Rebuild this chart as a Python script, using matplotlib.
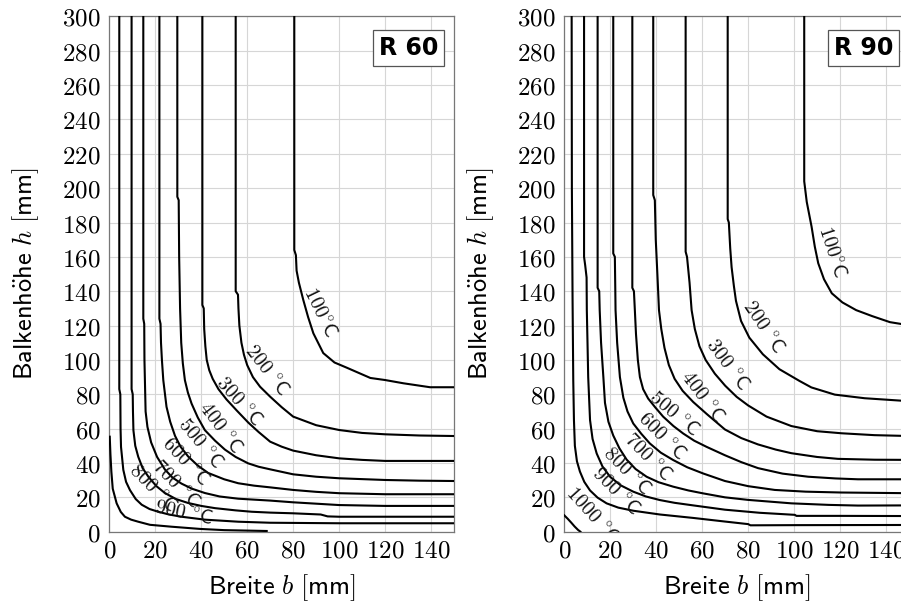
import matplotlib
matplotlib.use("Agg")
import matplotlib.pyplot as plt
from matplotlib.ticker import FuncFormatter

plt.rcParams['mathtext.fontset'] = 'cm'

# ---- isotherm data (b [mm], h [mm]) ----
# R 60
R60_T100 = [(80.5, 300), (80.5, 164), (81.2, 161), (81.5, 152), (82.5, 145), (84.4, 135), (86.5, 125),
            (88.8, 115.5), (93.1, 104), (98, 98.5), (103.3, 95.5), (113.6, 89.5), (120, 88.3),
            (128, 86.4), (139.6, 84.1), (150, 84.1)]
R60_T200 = [(55, 300), (55, 140), (56, 138), (56.2, 130), (56.6, 120), (57.5, 110), (58.6, 103),
            (60, 97), (62.5, 90), (65.6, 84.4), (70, 78.6), (75, 72.5), (80, 67), (90, 62),
            (100, 59.2), (110, 57.5), (120, 56.7), (135, 56), (150, 55.7)]
R60_T300 = [(40.5, 300), (40.5, 132), (41.1, 130), (41.3, 118), (41.8, 108), (42.4, 100), (43.5, 94),
            (45, 89), (47.5, 83), (51, 77), (55.5, 70.5), (60.5, 63.5), (65, 58), (70, 52.4),
            (75, 49.5), (80, 47.2), (90, 44.5), (100, 42.7), (110, 41.8), (120, 41.2), (150, 41.2)]
R60_T400 = [(29.6, 300), (29.6, 195), (30.2, 193), (30.4, 160), (30.8, 130), (31.3, 110), (32, 98),
            (32.9, 88.2), (34.2, 81), (35.8, 74.6), (38.5, 66.5), (41.6, 59.1), (46, 53), (50.3, 47.8),
            (55, 43.5), (60.4, 39.8), (65, 37.8), (70, 36.3), (80, 33.4), (90, 32), (100, 31.1),
            (120, 30.1), (135, 29.7), (150, 29.5)]
R60_T500 = [(21.8, 300), (21.8, 124), (22.3, 121), (22.5, 110), (22.9, 100), (23.5, 88.2), (24.9, 72.7),
            (26.5, 64), (28.6, 55.8), (31, 49.5), (34.3, 43.8), (38.5, 38.5), (43, 34.2), (50, 30.5),
            (56.1, 28.2), (63, 26.8), (70, 25.8), (80, 24.3), (90, 23.2), (100, 22.4), (120, 21.8),
            (150, 21.8)]
R60_T600 = [(14.8, 300), (14.8, 124), (15.2, 121), (15.3, 100), (15.5, 88), (15.8, 70), (16.6, 61),
            (18.2, 52), (20.8, 43.5), (24.2, 36.2), (27.5, 31.5), (31.4, 28), (36, 25), (41.6, 22.5),
            (48, 20.5), (56.1, 19.2), (70, 18.1), (80, 17.1), (100, 15.5), (120, 15), (150, 15)]
R60_T700 = [(9.7, 300), (9.7, 83), (10.2, 80), (10.3, 70), (10.5, 59), (11.3, 50), (12.6, 43.6),
            (14.5, 37), (17, 32), (20.5, 26.5), (24.2, 22.5), (29, 19), (34.3, 16.7), (40, 15),
            (46, 13.7), (55, 12.4), (62, 11.6), (70, 11.1), (80, 10.7), (92, 10), (95, 8.9),
            (100, 8.7), (150, 8.7)]
R60_T800 = [(4.35, 300), (4.35, 83), (4.8, 80), (4.9, 60), (5.1, 49.4), (6.1, 36), (7.3, 29), (9, 24.2),
            (11.5, 19), (14.1, 15.7), (17.5, 13.2), (21.3, 11.6), (26, 10), (31.4, 8.7), (41.6, 7),
            (56.1, 5.8), (70, 5.2), (100, 4.9), (150, 4.9)]
R60_T900 = [(0.2, 55.3), (0.5, 45), (0.9, 35), (1.5, 25), (3.2, 16.5), (5, 11.5), (6.8, 8.7), (9.5, 7),
            (12.6, 5.8), (17.7, 4), (27, 2.9), (39.5, 1.6), (50, 0.9), (68.5, 0.4)]

# R 90
R90_T100 = [(104.4, 300), (104.4, 204), (105.5, 192), (107.6, 177.6), (109, 166), (110.5, 156.3),
            (113, 147), (116.4, 138.8), (121, 133.5), (127, 129), (134, 125.5), (141.7, 122),
            (150, 120.2)]
R90_T200 = [(71.1, 300), (71.1, 182), (71.6, 180), (72.2, 165), (72.8, 154), (73.8, 143), (74.7, 134.4),
            (76.9, 122.7), (80.5, 113), (86.4, 103.3), (93.6, 94.6), (102.3, 87.8), (107.5, 84),
            (117.7, 79.8), (130.7, 77.7), (146.4, 76.3), (150, 76.2)]
R90_T300 = [(52.8, 300), (52.8, 163), (53.4, 160), (54.5, 145), (55.4, 129), (56.8, 118), (58.8, 108),
            (61.5, 100), (65.5, 92), (70, 85), (75, 78.5), (80, 73.5), (88, 67), (98.8, 61.5),
            (110, 58.5), (120.6, 57.3), (135, 56.2), (150, 55.7)]
R90_T400 = [(38.7, 300), (38.7, 196), (39.4, 193), (39.8, 170), (40.5, 150), (41.2, 129), (42.2, 118),
            (43.6, 107), (45.5, 97), (48, 89), (51.5, 82), (56.1, 75.5), (62, 68.5), (69.9, 59.5),
            (77, 54.5), (84.3, 50.8), (92, 47.8), (98.8, 45.7), (110, 43.5), (119.1, 42.4),
            (135, 41.9), (150, 41.8)]
R90_T500 = [(29.6, 300), (29.6, 142), (30.3, 140), (30.7, 129), (31.2, 115), (32, 100), (32.9, 90),
            (34.3, 83), (36.5, 77.5), (39.5, 72.5), (43, 67), (47.5, 61.5), (51.7, 57.2), (56.5, 53),
            (61.9, 49.4), (69.9, 44.5), (77, 40.5), (84.3, 37), (95, 33.8), (106.1, 32), (118, 31),
            (127.8, 30.5), (150, 30.5)]
R90_T600 = [(21.3, 300), (21.3, 162), (22, 160), (22.2, 140), (22.3, 129), (23, 110), (24.2, 90),
            (25.7, 78), (27.5, 70), (30, 63), (33.5, 57), (37.2, 51.4), (42, 46), (47.4, 41.7),
            (53.5, 37.5), (60.4, 33.9), (69.9, 29.5), (80, 26.5), (91.6, 24.3), (105, 23.3),
            (120.6, 22.8), (150, 22.4)]
R90_T700 = [(14.5, 300), (14.5, 142), (15.2, 140), (15.4, 129), (16, 110), (17, 90), (17.7, 75),
            (19.2, 64), (21.3, 56), (24, 48.5), (27.1, 42), (31, 36.5), (35.8, 32), (41, 28.8),
            (47.4, 26.2), (54, 24), (60.4, 22.3), (69.9, 20), (80, 18.5), (98.8, 16.5), (115, 15.6),
            (127.8, 15.2), (150, 15.3)]
R90_T800 = [(8.6, 300), (8.6, 160), (9.1, 155), (9.7, 148), (9.8, 129), (10.1, 110), (10.4, 90),
            (11.2, 65), (12.3, 54), (14.1, 45.5), (16.6, 38), (19.9, 32), (24.5, 27), (30, 23.3),
            (35.5, 20.5), (41.6, 18.4), (48, 16.8), (56.1, 15.3), (69.9, 12.8), (85, 11),
            (100.3, 9.8), (101, 9.2), (120, 9.2), (150, 9.1)]
R90_T900 = [(3.2, 300), (3.3, 200), (3.6, 135), (3.9, 88), (4.2, 65), (4.6, 50), (5.5, 41), (6.8, 35),
            (8.7, 29), (11.2, 24), (14.5, 19.8), (18.4, 16.5), (23.5, 14), (30, 12.2), (41.6, 10),
            (56.1, 8), (69.9, 5.9), (80, 4.4), (81, 3.7), (100, 3.8), (150, 3.9)]
R90_T1000 = [(0, 9.5), (1.5, 7.5), (3, 5.3), (4.5, 3), (6, 1), (7, 0)]

TEMPS_R60 = [100, 200, 300, 400, 500, 600, 700, 800, 900]
TEMPS_R90 = [100, 200, 300, 400, 500, 600, 700, 800, 900, 1000]
CURVES_R60 = [R60_T100, R60_T200, R60_T300, R60_T400, R60_T500, R60_T600, R60_T700, R60_T800, R60_T900]
CURVES_R90 = [R90_T100, R90_T200, R90_T300, R90_T400, R90_T500, R90_T600, R90_T700, R90_T800,
              R90_T900, R90_T1000]

# label placement (b, h, rotation in degrees)
LAB_R60 = [(91.8, 127.8, -64), (68.5, 94.2, -52), (56.1, 75.7, -48), (48.3, 60.6, -53),
           (39.6, 51.5, -50), (33.0, 41.0, -46), (29.0, 27.8, -45), (18.6, 25.5, -45),
           (32.3, 10.9, -12)]
LAB_R90 = [(116.4, 163, -72), (86.7, 119.4, -56), (71, 97.1, -53), (59.8, 78.6, -53),
           (47.8, 68.5, -40), (42.4, 55.3, -45), (36.2, 43.2, -45), (27.2, 34.9, -45),
           (22.1, 23.3, -45), (12.0, 9.6, -48)]


def temp_label(t):
    if t == 100:
        return r'$\mathsf{%d}{}^{\circ}\mathsf{C}$' % t
    return r'$\mathsf{%d}\ {}^{\circ}\mathsf{C}$' % t


fig = plt.figure(figsize=(9.01, 6.05), dpi=100)
ax1 = fig.add_axes([0.1213, 0.1212, 0.3826, 0.8516])
ax2 = fig.add_axes([0.6263, 0.1212, 0.3826, 0.8516])

panels = [(ax1, 'R 60', TEMPS_R60, CURVES_R60, LAB_R60),
          (ax2, 'R 90', TEMPS_R90, CURVES_R90, LAB_R90)]

for ax, title, temps, curves, labs in panels:
    for t, pts, (lb, lh, rot) in zip(temps, curves, labs):
        bb = [p[0] for p in pts]
        hh = [p[1] for p in pts]
        ax.plot(bb, hh, color='black', lw=1.5, zorder=3, solid_joinstyle='round')
        ax.text(lb, lh, temp_label(t), rotation=rot, rotation_mode='anchor',
                ha='center', va='center', fontsize=14.5, color='#111111', zorder=4, clip_on=True)

    ax.set_xlim(0, 150)
    ax.set_ylim(0, 300)
    ax.set_xticks(range(0, 141, 20))
    ax.set_yticks(range(0, 301, 20))
    ax.xaxis.set_major_formatter(FuncFormatter(lambda v, p: r'$%d$' % v))
    ax.yaxis.set_major_formatter(FuncFormatter(lambda v, p: r'$%d$' % v))
    ax.tick_params(length=0, labelsize=18)
    ax.tick_params(axis='y', pad=6)
    ax.tick_params(axis='x', pad=5)
    ax.grid(True, color='#d6d6d6', lw=0.8, zorder=0)
    ax.set_axisbelow(True)
    for s in ax.spines.values():
        s.set_color('#777777')
        s.set_linewidth(0.9)

    ax.set_xlabel(r'$\mathsf{Breite}\ b\ \mathsf{[mm]}$', fontsize=19, va='center')
    ax.set_ylabel(r'$\mathsf{Balkenh\ddot{o}he}\ h\ \mathsf{[mm]}$', fontsize=19, va='center')
    ax.xaxis.set_label_coords(0.5, -0.109)
    ax.yaxis.set_label_coords(-0.242, 0.5)

    ax.text(0.955, 0.962, title, transform=ax.transAxes, ha='right', va='top',
            fontsize=17, fontweight='bold', zorder=5,
            bbox=dict(boxstyle='square,pad=0.25', fc='white', ec='#555555', lw=0.9))

fig.savefig('out.png', dpi=100)
